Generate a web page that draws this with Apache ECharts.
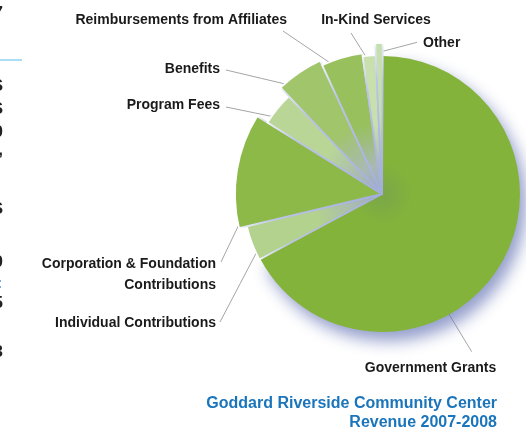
<!DOCTYPE html>
<html>
<head>
<meta charset="utf-8">
<script src="https://cdn.jsdelivr.net/npm/echarts@6/dist/echarts.min.js"></script>
<style>
html,body{margin:0;padding:0;background:#fff;}
#chart{width:526px;height:428px;}
</style>
</head>
<body>
<div id="chart"></div>
<script>
// ---- data ----
const categories = [
  'Government Grants',
  'Individual Contributions',
  'Corporation & Foundation\nContributions',
  'Program Fees',
  'Benefits',
  'Reimbursements from Affiliates',
  'In-Kind Services',
  'Other'
];
const revenueShare = [67.1, 4.1, 12.6, 4.0, 5.2, 4.7, 1.5, 0.8];
const titleLines = ['Goddard Riverside Community Center', 'Revenue 2007-2008'];

// ---- styling / layout (not data) ----
const CX = 382, CY = 194, START = 89.7;
const sliceRadius = [138, 139, 147, 135, 147, 142, 139, 151];
const sliceColor = ['#83b33b', '#b3d28d', '#8cb947', '#b9d697', '#a1c56a', '#98c05d', '#c8dfae', '#c6dfae'];
const labelSpots = [
  { x: 430.5, y: 368, align: 'center', from: [471.7, 351.7], frac: 0.626, rf: 0.77 },
  { x: 216, y: 323, align: 'right', from: [220, 322], frac: 0.36, rf: 0.95 },
  { x: 216, y: 275, align: 'right', from: [221, 262], frac: 0.275, rf: 0.88 },
  { x: 220, y: 105, align: 'right', from: [226, 107], frac: 0.39, rf: 0.91 },
  { x: 220, y: 69, align: 'right', from: [226, 70], frac: 0.28, rf: 0.93 },
  { x: 287, y: 20, align: 'right', from: [283, 31], frac: 0.47, rf: 0.89 },
  { x: 376, y: 20, align: 'center', from: [351, 33], frac: 0.45, rf: 0.956 },
  { x: 423, y: 43, align: 'left', from: [417, 42.3], frac: 0.6, rf: 0.94 }
];

const total = revenueShare.reduce((a, b) => a + b, 0);
const startDeg = [];
let acc = 90 - START;
revenueShare.forEach(v => { startDeg.push(acc); acc += v / total * 360; });

function anchorPoint(i) {
  const s = labelSpots[i];
  const span = revenueShare[i] / total * 360;
  const th = (startDeg[i] + s.frac * span) * Math.PI / 180;
  const r = s.rf * sliceRadius[i];
  return [CX + r * Math.sin(th), CY - r * Math.cos(th)];
}

function sliceFill(i) {
  if (i === 0) {
    return {
      type: 'radial', x: CX, y: CY, r: sliceRadius[0], global: true,
      colorStops: [
        { offset: 0, color: '#7aa64a' },
        { offset: 0.22, color: sliceColor[0] },
        { offset: 1, color: sliceColor[0] }
      ]
    };
  }
  if (i === 2) return sliceColor[2];
  return {
    type: 'radial', x: CX, y: CY, r: sliceRadius[i], global: true,
    colorStops: [
      { offset: 0, color: '#9aa8c8' },
      { offset: 0.2, color: '#a9b9b4' },
      { offset: 0.5, color: sliceColor[i] },
      { offset: 1, color: sliceColor[i] }
    ]
  };
}

function sliceEdge(i) {
  return {
    type: 'radial', x: CX, y: CY, r: sliceRadius[i], global: true,
    colorStops: [
      { offset: 0, color: '#a3addb' },
      { offset: 0.75, color: '#bcc4e6' },
      { offset: 0.97, color: '#e6e9f6' },
      { offset: 1, color: '#ffffff' }
    ]
  };
}

const series = categories.map((name, i) => ({
  type: 'pie',
  center: [CX, CY],
  radius: [0, sliceRadius[i]],
  startAngle: START,
  clockwise: true,
  avoidLabelOverlap: false,
  silent: true,
  animation: false,
  z: i === 0 ? 1 : 2,
  emphasis: { disabled: true },
  data: categories.map((n, j) => {
    const item = { name: n, value: revenueShare[j] };
    if (j !== i) {
      item.itemStyle = { color: 'rgba(0,0,0,0)', borderWidth: 0, shadowBlur: 0, shadowColor: 'rgba(0,0,0,0)' };
      item.label = { show: false };
      item.labelLine = { show: false };
    }
    return item;
  }),
  itemStyle: i === 0 ? {
    color: sliceFill(0),
    borderWidth: 0,
    shadowBlur: 16,
    shadowColor: 'rgba(100,115,180,0.7)',
    shadowOffsetX: 6,
    shadowOffsetY: 9
  } : {
    color: sliceFill(i),
    borderColor: sliceEdge(i),
    borderWidth: 1.8
  },
  label: {
    show: true,
    position: 'outside',
    formatter: '{b}',
    color: '#1a1a1a',
    fontFamily: 'Liberation Sans, Arial, sans-serif',
    fontWeight: 'bold',
    fontSize: 14,
    lineHeight: 21,
    align: labelSpots[i].align
  },
  labelLine: {
    show: true,
    lineStyle: { color: '#a5a5a5', width: 1 }
  },
  labelLayout: function (params) {
    if (params.dataIndex !== i) return {};
    const s = labelSpots[i];
    const a = anchorPoint(i);
    return {
      x: s.x,
      y: s.y,
      align: s.align,
      verticalAlign: 'middle',
      labelLinePoints: [a, [(a[0] + s.from[0]) / 2, (a[1] + s.from[1]) / 2], s.from]
    };
  }
}));

// cropped fragments of the neighbouring page on the far left
const edgeGlyphs = [['7', 13], ['S', 86], ['S', 109], ['0', 132], [',', 150], ['S', 209], ['0', 262], ['5', 303], ['3', 352]];
const graphics = edgeGlyphs.map(g => ({
  type: 'text', x: 3, y: g[1],
  style: { text: g[0], font: 'bold 17px Liberation Sans, Arial', fill: '#222', textAlign: 'right', textVerticalAlign: 'middle' }
}));
graphics.push({ type: 'line', shape: { x1: 0, y1: 60, x2: 22, y2: 60 }, style: { stroke: '#8fd3f1', lineWidth: 1.5 } });
graphics.push({ type: 'text', x: 2, y: 284, style: { text: ':', font: 'bold 14px Liberation Sans, Arial', fill: '#2a6fc0', textAlign: 'right', textVerticalAlign: 'middle' } });
titleLines.forEach((t, k) => {
  graphics.push({
    type: 'text', x: 497, y: 404 + k * 19,
    style: { text: t, font: 'bold 16px Liberation Sans, Arial', fill: '#1b75bb', textAlign: 'right', textVerticalAlign: 'middle' }
  });
});

const chart = echarts.init(document.getElementById('chart'), null, { renderer: 'canvas' });
chart.setOption({
  backgroundColor: '#fff',
  animation: false,
  graphic: graphics,
  series: series
});
</script>
</body>
</html>
